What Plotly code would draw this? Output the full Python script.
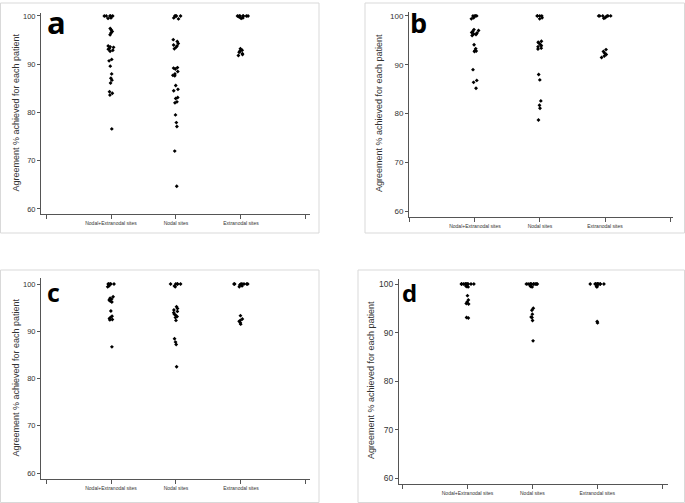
import plotly.graph_objects as go

W, H = 685, 503

# ---------------- data ----------------
tick_labels = ["", "Nodal+Extranodal sites", "Nodal sites", "Extranodal sites", ""]
y_ticks = [60, 70, 80, 90, 100]
y_title = "Agreement % achieved for each patient"
panel_letters = ["a", "b", "c", "d"]

a_nodal_extranodal = [100, 100, 100, 100, 100, 99.6, 99.5, 97.4, 97.1, 96.8, 96.5, 96.1,
                      93.8, 93.6, 93.5, 93.3, 93.1, 92.9, 92.7, 91.0, 90.7, 89.6, 88.0,
                      87.1, 86.7, 86.1, 84.3, 84.0, 83.6, 76.6]
a_nodal = [100, 100, 100, 100, 99.6, 99.4, 95.1, 94.7, 94.3, 94.0, 93.8, 93.5, 93.2,
           89.3, 89.2, 89.0, 88.5, 88.0, 87.7, 87.6, 85.6, 84.8, 84.5, 83.1, 82.9,
           82.2, 82.0, 79.5, 77.9, 77.1, 72.0, 64.7]
a_extranodal = [100, 100, 100, 100, 100, 100, 100, 99.8, 99.6, 99.5,
                93.2, 92.9, 92.7, 92.5, 92.2, 92.0, 91.8]

b_nodal_extranodal = [100, 100, 100, 100, 99.6, 99.4, 97.2, 97.0, 96.8, 96.6, 96.5, 96.3,
                      96.2, 96.0, 94.1, 93.3, 92.9, 92.8, 92.7, 89.0, 86.8, 86.4, 85.2]
b_nodal = [100, 100, 100, 100, 99.6, 99.4, 94.8, 94.6, 94.4, 94.1, 93.9, 93.7, 93.4,
           93.2, 88.0, 86.9, 82.6, 81.7, 81.1, 78.7]
b_extranodal = [100, 100, 100, 100, 100, 100, 99.8, 99.6, 99.5,
                93.1, 92.7, 92.4, 92.1, 91.8, 91.5]

c_nodal_extranodal = [100, 100, 100, 100, 100, 99.6, 99.4, 97.3, 97.0, 96.8, 96.6, 96.4,
                      96.2, 94.3, 93.2, 92.9, 92.7, 92.5, 92.4, 86.7]
c_nodal = [100, 100, 100, 100, 100, 99.6, 99.4, 95.2, 94.8, 94.5, 94.2, 93.9, 93.6,
           93.4, 93.1, 92.9, 92.3, 88.4, 87.7, 87.2, 82.5]
c_extranodal = [100, 100, 100, 100, 100, 100, 100, 99.8, 99.6, 99.4,
                93.3, 92.6, 92.3, 92.1, 91.8, 91.5]

d_nodal_extranodal = [100, 100, 100, 100, 100, 100, 100, 100, 100, 100, 99.6, 99.5, 99.4,
                      97.6, 96.7, 96.3, 96.0, 95.9, 93.1, 93.0]
d_nodal = [100, 100, 100, 100, 100, 100, 100, 100, 100, 100, 99.6, 99.5, 99.4,
           95.0, 94.6, 93.8, 93.2, 93.1, 92.5, 88.3]
d_extranodal = [100, 100, 100, 100, 100, 100, 100, 100, 100, 100, 99.6, 99.5, 99.4,
                92.3, 92.0]

panels_data = [
    (a_nodal_extranodal, a_nodal, a_extranodal),
    (b_nodal_extranodal, b_nodal, b_extranodal),
    (c_nodal_extranodal, c_nodal, c_extranodal),
    (d_nodal_extranodal, d_nodal, d_extranodal),
]

# ---------------- layout geometry (pixels) ----------------
geom = [
    dict(l=41, r=310, t=13, b=214, xr=[-0.077, 4.062], yr=[58.96, 100.62], tfs=7.5,
         title_xy=(15, 112.5), letter_xy=(45, 22), lfs=31, frame=(0.5, 319, 3, 233)),
    dict(l=409, r=673, t=12, b=217, xr=[-0.015, 4.046], yr=[58.83, 100.8], tfs=8,
         title_xy=(379, 113), letter_xy=(408, 22), lfs=27, frame=(365, 684.5, 3, 233)),
    dict(l=41, r=310, t=278, b=479, xr=[-0.077, 4.062], yr=[58.73, 101.27], tfs=7.5,
         title_xy=(15, 377.5), letter_xy=(45, 292), lfs=25, frame=(0.5, 319, 270, 502.5)),
    dict(l=399, r=668, t=279, b=484, xr=[-0.057, 4.092], yr=[58.85, 101.03], tfs=8.5,
         title_xy=(371, 380), letter_xy=(400, 292), lfs=24, frame=(358, 684.5, 270, 502.5)),
]

FONT = "Arial, Liberation Sans, sans-serif"
AXCOL = "#555555"
TXTCOL = "#333333"

fig = go.Figure()
annotations = []
shapes = []
layout = dict(width=W, height=H, margin=dict(l=0, r=0, t=0, b=0),
              paper_bgcolor="white", plot_bgcolor="white", showlegend=False,
              boxmode="overlay")

positions = list(range(len(tick_labels)))

for i, (g, series) in enumerate(zip(geom, panels_data)):
    k = "" if i == 0 else str(i + 1)
    xs, ys = [], []
    for cat_idx, vals in zip(positions[1:4], series):
        xs += [cat_idx] * len(vals)
        ys += list(vals)
    fig.add_trace(go.Box(
        x=xs, y=ys, xaxis="x" + k, yaxis="y" + k,
        boxpoints="all", jitter=0.85, pointpos=0, width=0.26,
        fillcolor="rgba(0,0,0,0)", line=dict(width=0, color="rgba(0,0,0,0)"),
        marker=dict(symbol="diamond", size=3, color="black"),
        hoverinfo="y", whiskerwidth=0,
    ))
    layout["xaxis" + k] = dict(
        domain=[g["l"] / W, g["r"] / W], anchor="y" + k, range=g["xr"],
        tickmode="array", tickvals=positions, ticktext=tick_labels,
        ticks="outside", ticklen=4, tickcolor=AXCOL, showline=True, linecolor=AXCOL,
        linewidth=1, showgrid=False, zeroline=False,
        tickfont=dict(family=FONT, size=5, color=TXTCOL),
    )
    layout["yaxis" + k] = dict(
        domain=[1 - g["b"] / H, 1 - g["t"] / H], anchor="x" + k, range=g["yr"],
        tickmode="array", tickvals=y_ticks,
        ticks="outside", ticklen=3, tickcolor=AXCOL, showline=True, linecolor=AXCOL,
        linewidth=1, showgrid=False, zeroline=False,
        tickfont=dict(family=FONT, size=g["tfs"], color=TXTCOL),
    )
    tx, ty = g["title_xy"]
    annotations.append(dict(
        text=y_title, x=tx / W, y=1 - ty / H, xref="paper", yref="paper",
        xanchor="center", yanchor="middle", textangle=-90, showarrow=False,
        font=dict(family=FONT, size=9, color=TXTCOL),
    ))
    lx, ly = g["letter_xy"]
    annotations.append(dict(
        text="<b>" + panel_letters[i] + "</b>", x=lx / W, y=1 - ly / H,
        xref="paper", yref="paper", xanchor="left", yanchor="middle",
        showarrow=False, font=dict(family="Open Sans, Arial, sans-serif",
                                   size=g["lfs"], color="black"),
    ))
    fx0, fx1, fy0, fy1 = g["frame"]
    shapes.append(dict(type="rect", xref="paper", yref="paper",
                       x0=fx0 / W, x1=fx1 / W, y0=1 - fy1 / H, y1=1 - fy0 / H,
                       line=dict(color="#d9d9d9", width=1), layer="below"))

layout["annotations"] = annotations
layout["shapes"] = shapes
fig.update_layout(**layout)
fig.write_html("out.html", config={"displayModeBar": False},
               post_script="document.body.style.margin='0px';document.body.style.padding='0px';")
